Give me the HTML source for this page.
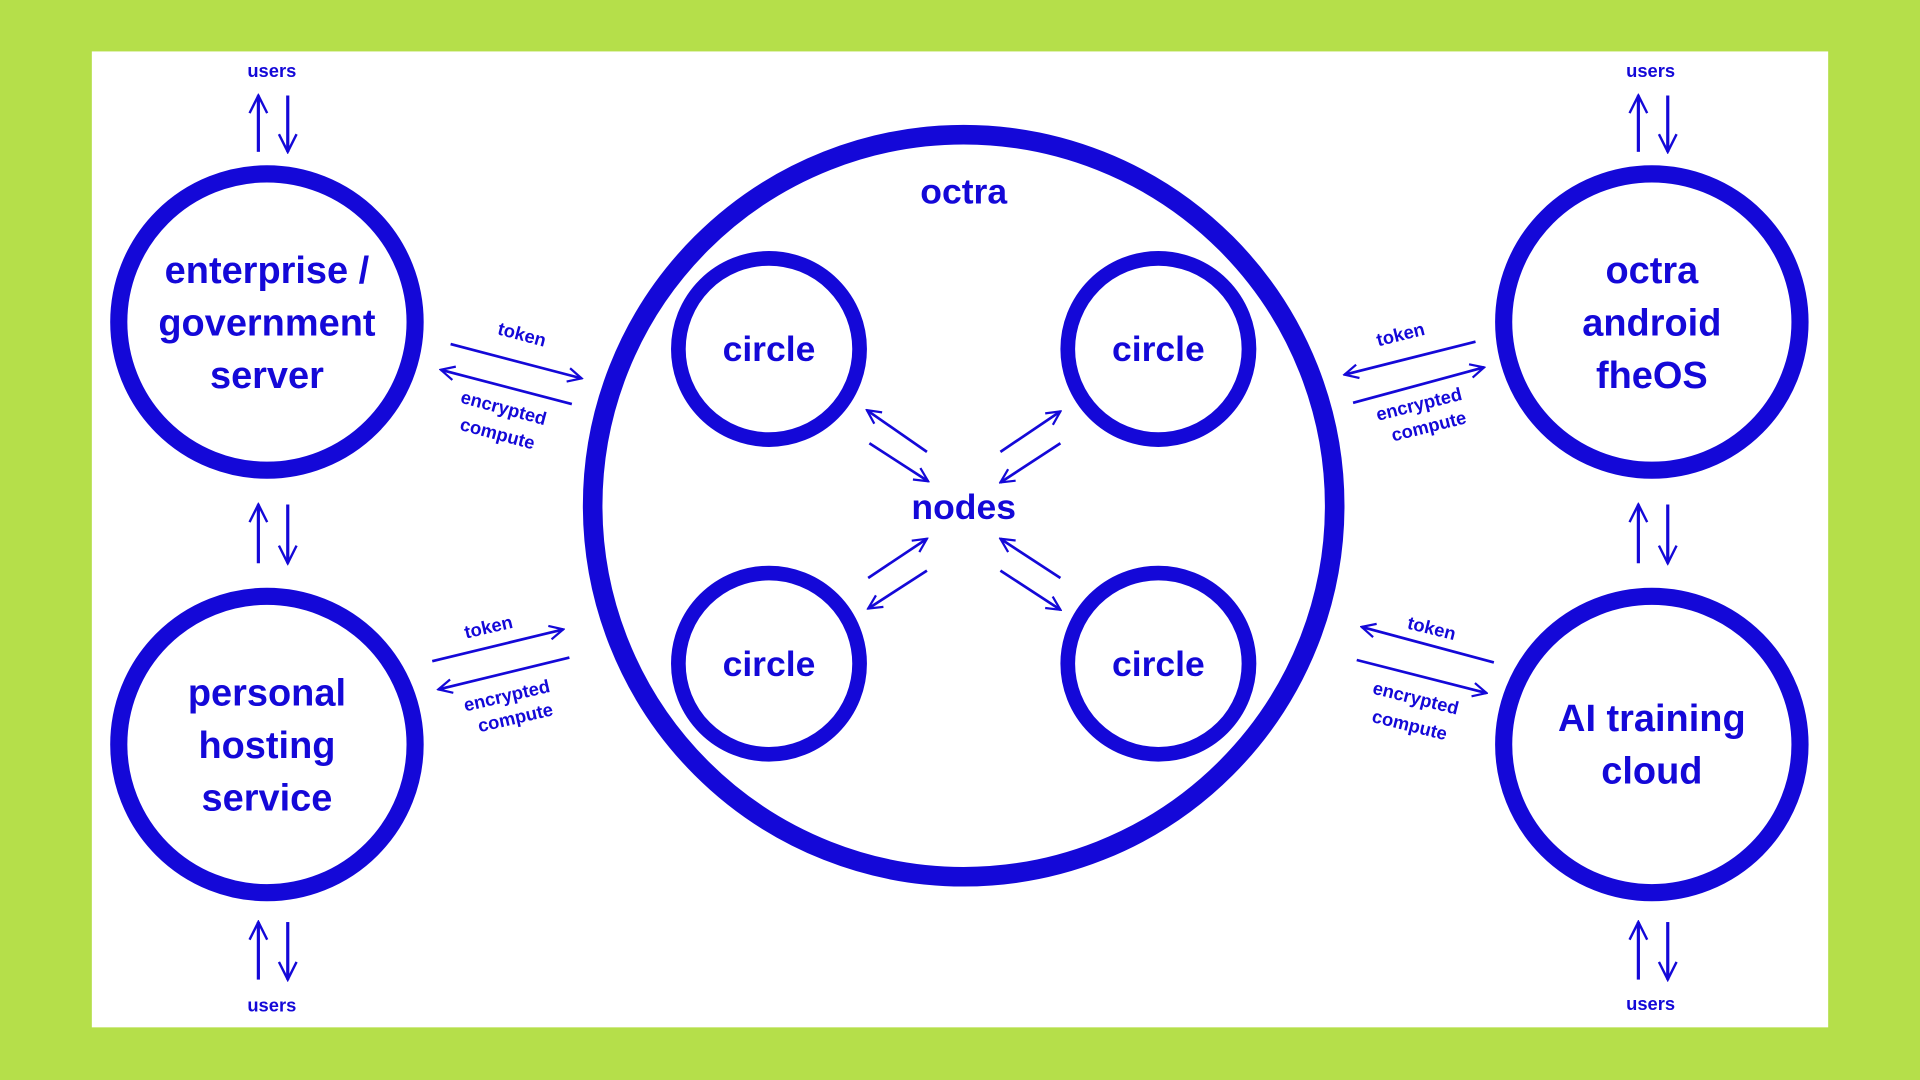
<!DOCTYPE html>
<html><head><meta charset="utf-8"><style>
html,body{margin:0;padding:0;background:#b5df4a;}
svg{display:block;}
text{font-family:"Liberation Sans",sans-serif;font-weight:bold;fill:#1408d8;text-anchor:middle;}
</style></head><body>
<svg width="1920" height="1080" viewBox="0 0 1568 882" preserveAspectRatio="none" xmlns="http://www.w3.org/2000/svg">
<defs>
<marker id="a" viewBox="0 0 10 10" refX="9" refY="5" markerWidth="14" markerHeight="14" markerUnits="userSpaceOnUse" orient="auto">
<path d="M1,1 L9,5 L1,9" fill="none" stroke="#1408d8" stroke-width="1.3"/>
</marker>
<marker id="b" viewBox="0 0 10 10" refX="9" refY="5" markerWidth="18" markerHeight="18" markerUnits="userSpaceOnUse" orient="auto">
<path d="M1,1 L9,5 L1,9" fill="none" stroke="#1408d8" stroke-width="1.1"/>
</marker>
</defs>
<rect x="0" y="0" width="1568" height="882" fill="#b5df4a"/>
<rect x="75" y="42" width="1418" height="797" fill="#fff"/>
<g fill="none" stroke="#1408d8">
<circle cx="787" cy="413" r="303" stroke-width="16"/>
<circle cx="628" cy="285" r="74" stroke-width="12"/>
<circle cx="946" cy="285" r="74" stroke-width="12"/>
<circle cx="628" cy="542" r="74" stroke-width="12"/>
<circle cx="946" cy="542" r="74" stroke-width="12"/>
<circle cx="218" cy="263" r="121" stroke-width="14"/>
<circle cx="218" cy="608" r="121" stroke-width="14"/>
<circle cx="1349" cy="263" r="121" stroke-width="14"/>
<circle cx="1349" cy="608" r="121" stroke-width="14"/>
</g>
<g stroke="#1408d8" stroke-width="2.6" fill="none">
<line x1="211" y1="124" x2="211" y2="78" marker-end="url(#b)"/>
<line x1="235" y1="78" x2="235" y2="124" marker-end="url(#b)"/>
<line x1="211" y1="460" x2="211" y2="412" marker-end="url(#b)"/>
<line x1="235" y1="412" x2="235" y2="460" marker-end="url(#b)"/>
<line x1="211" y1="800" x2="211" y2="753" marker-end="url(#b)"/>
<line x1="235" y1="753" x2="235" y2="800" marker-end="url(#b)"/>
<line x1="1338" y1="124" x2="1338" y2="78" marker-end="url(#b)"/>
<line x1="1362" y1="78" x2="1362" y2="124" marker-end="url(#b)"/>
<line x1="1338" y1="460" x2="1338" y2="412" marker-end="url(#b)"/>
<line x1="1362" y1="412" x2="1362" y2="460" marker-end="url(#b)"/>
<line x1="1338" y1="800" x2="1338" y2="753" marker-end="url(#b)"/>
<line x1="1362" y1="753" x2="1362" y2="800" marker-end="url(#b)"/>
</g>
<g stroke="#1408d8" stroke-width="2.2" fill="none">
<line x1="368" y1="281" x2="475" y2="309" marker-end="url(#a)"/>
<line x1="467" y1="330" x2="360" y2="302" marker-end="url(#a)"/>
<line x1="353" y1="540" x2="460" y2="514" marker-end="url(#a)"/>
<line x1="465" y1="537" x2="358" y2="563" marker-end="url(#a)"/>
<line x1="1205" y1="279" x2="1098" y2="306" marker-end="url(#a)"/>
<line x1="1105" y1="329" x2="1212" y2="300" marker-end="url(#a)"/>
<line x1="1220" y1="541" x2="1112" y2="512" marker-end="url(#a)"/>
<line x1="1108" y1="539" x2="1214" y2="566" marker-end="url(#a)"/>
<line x1="757" y1="369" x2="708" y2="335" marker-end="url(#a)"/>
<line x1="710" y1="362" x2="758" y2="393" marker-end="url(#a)"/>
<line x1="817" y1="369" x2="866" y2="336" marker-end="url(#a)"/>
<line x1="866" y1="362" x2="817" y2="394" marker-end="url(#a)"/>
<line x1="709" y1="472" x2="757" y2="440" marker-end="url(#a)"/>
<line x1="757" y1="466" x2="709" y2="497" marker-end="url(#a)"/>
<line x1="866" y1="472" x2="817" y2="440" marker-end="url(#a)"/>
<line x1="817" y1="466" x2="866" y2="498" marker-end="url(#a)"/>
</g>
<g font-size="15">
<text x="222" y="63">users</text>
<text x="1348" y="63">users</text>
<text x="222" y="826">users</text>
<text x="1348" y="825">users</text>
</g>
<g font-size="31">
<text x="218" y="231">enterprise /</text>
<text x="218" y="274">government</text>
<text x="218" y="317">server</text>
<text x="218" y="576">personal</text>
<text x="218" y="619">hosting</text>
<text x="218" y="662">service</text>
<text x="1349" y="231">octra</text>
<text x="1349" y="274">android</text>
<text x="1349" y="317">fheOS</text>
<text x="1349" y="597">AI training</text>
<text x="1349" y="640">cloud</text>
</g>
<g font-size="29">
<text x="628" y="295">circle</text>
<text x="946" y="295">circle</text>
<text x="628" y="552">circle</text>
<text x="946" y="552">circle</text>
<text x="787" y="424">nodes</text>
<text x="787" y="166">octra</text>
</g>
<g font-size="15">
<text transform="translate(425,278) rotate(15)">token</text>
<text transform="translate(410,338) rotate(15)">encrypted</text>
<text transform="translate(405,359) rotate(15)">compute</text>
<text transform="translate(400,517) rotate(-13)">token</text>
<text transform="translate(415,573) rotate(-13)">encrypted</text>
<text transform="translate(422,591) rotate(-13)">compute</text>
<text transform="translate(1145,278) rotate(-14)">token</text>
<text transform="translate(1160,335) rotate(-14)">encrypted</text>
<text transform="translate(1168,353) rotate(-14)">compute</text>
<text transform="translate(1168,518) rotate(14)">token</text>
<text transform="translate(1155,575) rotate(14)">encrypted</text>
<text transform="translate(1150,597) rotate(14)">compute</text>
</g>
</svg>
</body></html>
